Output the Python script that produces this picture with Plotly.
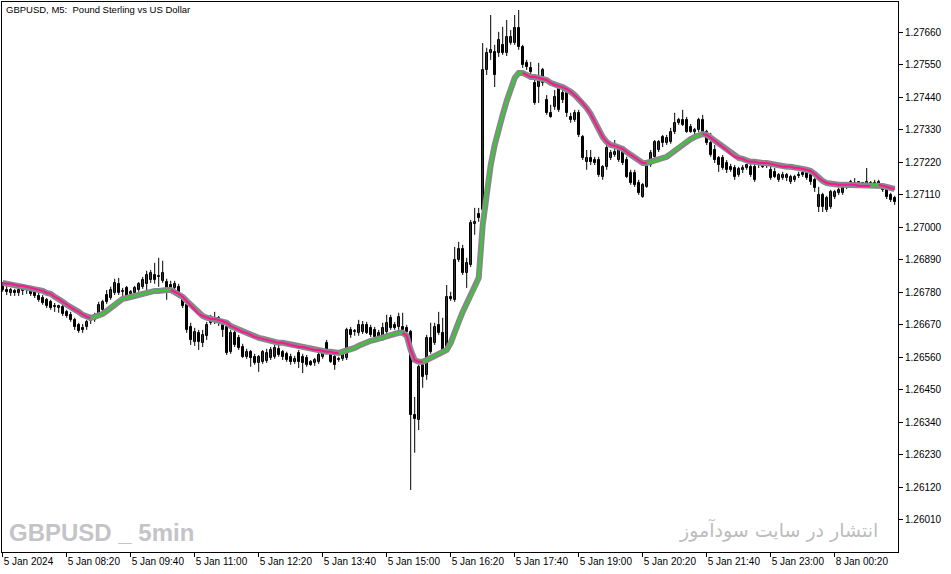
import plotly.graph_objects as go

# ---- data (GBPUSD, M5) ----
opens = [
    1.26805, 1.26788, 1.26778, 1.26785, 1.26778, 1.26785, 1.26792, 1.26795,
    1.26782, 1.26768, 1.26761, 1.26755, 1.26748, 1.26734, 1.26727, 1.26731,
    1.26714, 1.26704, 1.26687, 1.26670, 1.26660, 1.26663, 1.26683, 1.26687,
    1.26704, 1.26721, 1.26771, 1.26761, 1.26778, 1.26809, 1.26782, 1.26795,
    1.26775, 1.26778, 1.26788, 1.26799, 1.26809, 1.26822, 1.26839, 1.26832,
    1.26819, 1.26815, 1.26805, 1.26795, 1.26799, 1.26765, 1.26738, 1.26663,
    1.26612, 1.26643, 1.26609, 1.26633, 1.26677, 1.26694, 1.26680, 1.26670,
    1.26663, 1.26579, 1.26643, 1.26626, 1.26595, 1.26562, 1.26579, 1.26562,
    1.26541, 1.26545, 1.26548, 1.26558, 1.26562, 1.26589, 1.26579, 1.26572,
    1.26562, 1.26545, 1.26575, 1.26562, 1.26558, 1.26545, 1.26541, 1.26545,
    1.26562, 1.26609, 1.26575, 1.26562, 1.26555, 1.26555, 1.26558, 1.26653,
    1.26646, 1.26643, 1.26646, 1.26670, 1.26660, 1.26653, 1.26626, 1.26626,
    1.26646, 1.26694, 1.26670, 1.26663, 1.26663, 1.26660, 1.26646, 1.26365,
    1.26348, 1.26535, 1.26501, 1.26626, 1.26609, 1.26670, 1.26643, 1.26585,
    1.26765, 1.26755, 1.26890, 1.26927, 1.26846, 1.26873, 1.27012, 1.27046,
    1.27059, 1.27533, 1.27591, 1.27594, 1.27591, 1.27618, 1.27591, 1.27624,
    1.27624, 1.27675, 1.27611, 1.27557, 1.27540, 1.27489, 1.27475, 1.27489,
    1.27432, 1.27388, 1.27408, 1.27472, 1.27455, 1.27455, 1.27374, 1.27364,
    1.27388, 1.27306, 1.27222, 1.27235, 1.27228, 1.27228, 1.27171, 1.27205,
    1.27235, 1.27245, 1.27228, 1.27262, 1.27228, 1.27184, 1.27184, 1.27150,
    1.27103, 1.27137, 1.27211, 1.27239, 1.27262, 1.27306, 1.27286, 1.27289,
    1.27323, 1.27354, 1.27364, 1.27364, 1.27340, 1.27323, 1.27330, 1.27364,
    1.27323, 1.27286, 1.27262, 1.27235, 1.27235, 1.27218, 1.27205, 1.27201,
    1.27178, 1.27195, 1.27201, 1.27205, 1.27205, 1.27211, 1.27211, 1.27211,
    1.27195, 1.27188, 1.27161, 1.27167, 1.27167, 1.27154, 1.27161, 1.27178,
    1.27184, 1.27184, 1.27178, 1.27161, 1.27069, 1.27110, 1.27059, 1.27069,
    1.27103, 1.27117, 1.27117, 1.27137, 1.27147, 1.27144, 1.27144, 1.27144,
    1.27144, 1.27150, 1.27150, 1.27147, 1.27144, 1.27127, 1.27110, 1.27100,
]
highs = [
    1.26815, 1.26805, 1.26795, 1.26792, 1.26795, 1.26802, 1.26805, 1.26802,
    1.26792, 1.26778, 1.26771, 1.26761, 1.26755, 1.26744, 1.26738, 1.26738,
    1.26721, 1.26714, 1.26694, 1.26677, 1.26673, 1.26687, 1.26694, 1.26711,
    1.26748, 1.26755, 1.26788, 1.26799, 1.26826, 1.26829, 1.26795, 1.26802,
    1.26788, 1.26802, 1.26815, 1.26832, 1.26853, 1.26856, 1.26880, 1.26897,
    1.26887, 1.26826, 1.26819, 1.26819, 1.26809, 1.26771, 1.26744, 1.26677,
    1.26660, 1.26653, 1.26653, 1.26680, 1.26704, 1.26714, 1.26700, 1.26680,
    1.26670, 1.26653, 1.26653, 1.26636, 1.26606, 1.26589, 1.26585, 1.26572,
    1.26568, 1.26585, 1.26589, 1.26595, 1.26602, 1.26602, 1.26585, 1.26579,
    1.26572, 1.26565, 1.26585, 1.26572, 1.26568, 1.26551, 1.26558, 1.26579,
    1.26585, 1.26619, 1.26585, 1.26572, 1.26562, 1.26572, 1.26660, 1.26663,
    1.26656, 1.26687, 1.26683, 1.26680, 1.26670, 1.26663, 1.26653, 1.26677,
    1.26704, 1.26704, 1.26680, 1.26711, 1.26711, 1.26670, 1.26653, 1.26426,
    1.26535, 1.26551, 1.26636, 1.26677, 1.26677, 1.26714, 1.26694, 1.26805,
    1.26782, 1.26934, 1.26951, 1.26941, 1.26897, 1.27025, 1.27066, 1.27066,
    1.27624, 1.27608, 1.27719, 1.27618, 1.27662, 1.27679, 1.27702, 1.27668,
    1.27719, 1.27736, 1.27618, 1.27567, 1.27560, 1.27506, 1.27557, 1.27540,
    1.27448, 1.27415, 1.27465, 1.27489, 1.27472, 1.27465, 1.27388, 1.27398,
    1.27398, 1.27313, 1.27262, 1.27262, 1.27239, 1.27239, 1.27211, 1.27279,
    1.27262, 1.27296, 1.27269, 1.27269, 1.27239, 1.27195, 1.27195, 1.27161,
    1.27150, 1.27228, 1.27262, 1.27296, 1.27296, 1.27313, 1.27313, 1.27337,
    1.27388, 1.27371, 1.27398, 1.27374, 1.27350, 1.27337, 1.27371, 1.27381,
    1.27330, 1.27320, 1.27279, 1.27242, 1.27245, 1.27228, 1.27215, 1.27211,
    1.27205, 1.27211, 1.27215, 1.27215, 1.27215, 1.27228, 1.27222, 1.27222,
    1.27211, 1.27201, 1.27184, 1.27188, 1.27184, 1.27178, 1.27178, 1.27188,
    1.27191, 1.27195, 1.27188, 1.27167, 1.27137, 1.27117, 1.27107, 1.27127,
    1.27127, 1.27134, 1.27140, 1.27154, 1.27161, 1.27167, 1.27157, 1.27154,
    1.27201, 1.27157, 1.27161, 1.27161, 1.27150, 1.27134, 1.27117, 1.27107,
]
lows = [
    1.26782, 1.26771, 1.26768, 1.26768, 1.26768, 1.26771, 1.26775, 1.26768,
    1.26761, 1.26748, 1.26738, 1.26727, 1.26721, 1.26714, 1.26711, 1.26700,
    1.26694, 1.26680, 1.26653, 1.26643, 1.26643, 1.26653, 1.26673, 1.26680,
    1.26697, 1.26711, 1.26741, 1.26755, 1.26771, 1.26771, 1.26768, 1.26761,
    1.26765, 1.26768, 1.26782, 1.26792, 1.26788, 1.26812, 1.26809, 1.26799,
    1.26812, 1.26755, 1.26782, 1.26788, 1.26761, 1.26727, 1.26643, 1.26602,
    1.26599, 1.26585, 1.26595, 1.26619, 1.26670, 1.26673, 1.26666, 1.26629,
    1.26568, 1.26572, 1.26595, 1.26585, 1.26558, 1.26555, 1.26528, 1.26535,
    1.26511, 1.26538, 1.26541, 1.26551, 1.26555, 1.26562, 1.26551, 1.26545,
    1.26535, 1.26538, 1.26524, 1.26507, 1.26528, 1.26531, 1.26531, 1.26538,
    1.26555, 1.26579, 1.26541, 1.26518, 1.26545, 1.26548, 1.26551, 1.26626,
    1.26633, 1.26633, 1.26639, 1.26639, 1.26629, 1.26619, 1.26619, 1.26616,
    1.26639, 1.26653, 1.26653, 1.26653, 1.26650, 1.26639, 1.26111, 1.26237,
    1.26314, 1.26457, 1.26484, 1.26572, 1.26602, 1.26636, 1.26579, 1.26579,
    1.26751, 1.26748, 1.26883, 1.26839, 1.26795, 1.26866, 1.26975, 1.27019,
    1.27052, 1.27516, 1.27567, 1.27475, 1.27577, 1.27584, 1.27580, 1.27618,
    1.27618, 1.27601, 1.27540, 1.27533, 1.27499, 1.27415, 1.27421, 1.27479,
    1.27381, 1.27371, 1.27398, 1.27391, 1.27421, 1.27374, 1.27354, 1.27357,
    1.27306, 1.27228, 1.27195, 1.27211, 1.27211, 1.27171, 1.27161, 1.27195,
    1.27228, 1.27239, 1.27222, 1.27211, 1.27167, 1.27144, 1.27137, 1.27110,
    1.27100, 1.27134, 1.27205, 1.27235, 1.27255, 1.27272, 1.27279, 1.27283,
    1.27316, 1.27347, 1.27343, 1.27320, 1.27320, 1.27316, 1.27323, 1.27313,
    1.27279, 1.27239, 1.27218, 1.27188, 1.27195, 1.27184, 1.27188, 1.27161,
    1.27171, 1.27184, 1.27195, 1.27171, 1.27154, 1.27201, 1.27201, 1.27201,
    1.27161, 1.27167, 1.27154, 1.27161, 1.27157, 1.27147, 1.27154, 1.27167,
    1.27171, 1.27161, 1.27144, 1.27120, 1.27052, 1.27052, 1.27052, 1.27063,
    1.27096, 1.27110, 1.27110, 1.27130, 1.27140, 1.27140, 1.27137, 1.27137,
    1.27137, 1.27140, 1.27134, 1.27140, 1.27120, 1.27096, 1.27086, 1.27076,
]
closes = [
    1.26788, 1.26782, 1.26788, 1.26778, 1.26788, 1.26792, 1.26795, 1.26775,
    1.26768, 1.26755, 1.26744, 1.26734, 1.26727, 1.26731, 1.26734, 1.26707,
    1.26700, 1.26687, 1.26663, 1.26650, 1.26653, 1.26680, 1.26687, 1.26704,
    1.26738, 1.26748, 1.26748, 1.26788, 1.26812, 1.26778, 1.26785, 1.26768,
    1.26782, 1.26795, 1.26809, 1.26822, 1.26839, 1.26846, 1.26822, 1.26836,
    1.26846, 1.26778, 1.26795, 1.26809, 1.26768, 1.26734, 1.26653, 1.26619,
    1.26646, 1.26612, 1.26636, 1.26670, 1.26687, 1.26683, 1.26694, 1.26653,
    1.26575, 1.26643, 1.26602, 1.26592, 1.26562, 1.26579, 1.26558, 1.26541,
    1.26562, 1.26579, 1.26575, 1.26585, 1.26592, 1.26568, 1.26562, 1.26551,
    1.26545, 1.26555, 1.26545, 1.26541, 1.26535, 1.26535, 1.26551, 1.26568,
    1.26575, 1.26585, 1.26545, 1.26535, 1.26551, 1.26568, 1.26653, 1.26636,
    1.26650, 1.26670, 1.26670, 1.26643, 1.26636, 1.26629, 1.26643, 1.26660,
    1.26677, 1.26660, 1.26660, 1.26697, 1.26653, 1.26646, 1.26365, 1.26352,
    1.26528, 1.26494, 1.26626, 1.26579, 1.26663, 1.26643, 1.26585, 1.26765,
    1.26758, 1.26890, 1.26927, 1.26846, 1.26880, 1.27015, 1.27019, 1.27032,
    1.27533, 1.27591, 1.27601, 1.27516, 1.27635, 1.27591, 1.27645, 1.27645,
    1.27675, 1.27611, 1.27550, 1.27543, 1.27526, 1.27421, 1.27499, 1.27533,
    1.27388, 1.27374, 1.27442, 1.27398, 1.27432, 1.27388, 1.27364, 1.27388,
    1.27313, 1.27235, 1.27235, 1.27222, 1.27218, 1.27178, 1.27205, 1.27269,
    1.27252, 1.27255, 1.27262, 1.27218, 1.27171, 1.27150, 1.27144, 1.27117,
    1.27144, 1.27222, 1.27252, 1.27289, 1.27289, 1.27286, 1.27303, 1.27323,
    1.27354, 1.27364, 1.27347, 1.27323, 1.27323, 1.27330, 1.27364, 1.27320,
    1.27286, 1.27245, 1.27228, 1.27211, 1.27201, 1.27195, 1.27195, 1.27171,
    1.27198, 1.27201, 1.27211, 1.27178, 1.27161, 1.27222, 1.27205, 1.27215,
    1.27167, 1.27171, 1.27178, 1.27178, 1.27178, 1.27171, 1.27171, 1.27174,
    1.27178, 1.27167, 1.27154, 1.27134, 1.27110, 1.27069, 1.27100, 1.27120,
    1.27120, 1.27127, 1.27134, 1.27150, 1.27154, 1.27150, 1.27154, 1.27150,
    1.27154, 1.27144, 1.27140, 1.27154, 1.27127, 1.27103, 1.27093, 1.27086,
]
ma_values = [
    1.26812, 1.26809, 1.26809, 1.26805, 1.26802, 1.26802, 1.26799, 1.26795,
    1.26792, 1.26788, 1.26785, 1.26778, 1.26775, 1.26765, 1.26758, 1.26748,
    1.26738, 1.26731, 1.26721, 1.26714, 1.26704, 1.26697, 1.26694, 1.26697,
    1.26700, 1.26707, 1.26717, 1.26727, 1.26741, 1.26751, 1.26758, 1.26761,
    1.26765, 1.26768, 1.26771, 1.26775, 1.26778, 1.26782, 1.26785, 1.26785,
    1.26788, 1.26788, 1.26788, 1.26782, 1.26775, 1.26765, 1.26751, 1.26738,
    1.26724, 1.26707, 1.26700, 1.26694, 1.26690, 1.26690, 1.26687, 1.26683,
    1.26677, 1.26666, 1.26660, 1.26653, 1.26646, 1.26643, 1.26636, 1.26629,
    1.26626, 1.26623, 1.26619, 1.26616, 1.26612, 1.26609, 1.26609, 1.26606,
    1.26602, 1.26599, 1.26595, 1.26595, 1.26592, 1.26589, 1.26585, 1.26585,
    1.26582, 1.26579, 1.26579, 1.26575, 1.26575, 1.26579, 1.26582, 1.26585,
    1.26592, 1.26599, 1.26606, 1.26612, 1.26616, 1.26619, 1.26623, 1.26626,
    1.26633, 1.26636, 1.26639, 1.26643, 1.26643, 1.26633, 1.26585, 1.26551,
    1.26545, 1.26545, 1.26551, 1.26558, 1.26565, 1.26572, 1.26579, 1.26585,
    1.26609, 1.26639, 1.26680, 1.26714, 1.26741, 1.26765, 1.26792, 1.26829,
    1.27008, 1.27127, 1.27211, 1.27279, 1.27337, 1.27381, 1.27428, 1.27469,
    1.27506, 1.27523, 1.27523, 1.27516, 1.27509, 1.27509, 1.27506, 1.27503,
    1.27499, 1.27489, 1.27482, 1.27479, 1.27475, 1.27469, 1.27459, 1.27448,
    1.27435, 1.27421, 1.27404, 1.27384, 1.27357, 1.27330, 1.27306, 1.27289,
    1.27279, 1.27276, 1.27272, 1.27266, 1.27255, 1.27245, 1.27235, 1.27225,
    1.27218, 1.27218, 1.27222, 1.27225, 1.27228, 1.27235, 1.27239, 1.27249,
    1.27259, 1.27272, 1.27283, 1.27293, 1.27299, 1.27306, 1.27310, 1.27316,
    1.27313, 1.27303, 1.27293, 1.27283, 1.27272, 1.27262, 1.27249, 1.27239,
    1.27235, 1.27232, 1.27225, 1.27222, 1.27222, 1.27218, 1.27218, 1.27218,
    1.27215, 1.27211, 1.27208, 1.27205, 1.27205, 1.27205, 1.27201, 1.27201,
    1.27198, 1.27195, 1.27191, 1.27181, 1.27167, 1.27157, 1.27150, 1.27147,
    1.27147, 1.27144, 1.27144, 1.27144, 1.27144, 1.27144, 1.27140, 1.27140,
    1.27140, 1.27140, 1.27144, 1.27144, 1.27140, 1.27137, 1.27134, 1.27130,
]
time_tick_bars = [0, 16, 32, 48, 64, 80, 96, 112, 128, 144, 160, 176, 192, 208]
time_tick_labels = [
    "5 Jan 2024", "5 Jan 08:20", "5 Jan 09:40", "5 Jan 11:00", "5 Jan 12:20",
    "5 Jan 13:40", "5 Jan 15:00", "5 Jan 16:20", "5 Jan 17:40", "5 Jan 19:00",
    "5 Jan 20:20", "5 Jan 21:40", "5 Jan 23:00", "8 Jan 00:20",
]
price_ticks = [
    1.27660, 1.27550, 1.27440, 1.27330, 1.27220, 1.27110, 1.27000, 1.26890,
    1.26780, 1.26670, 1.26560, 1.26450, 1.26340, 1.26230, 1.26120, 1.26010,
]
price_tick_labels = [
    "1.27660", "1.27550", "1.27440", "1.27330", "1.27220", "1.27110", "1.27000",
    "1.26890", "1.26780", "1.26670", "1.26560", "1.26450", "1.26340", "1.26230",
    "1.26120", "1.26010",
]

# ---- styling ----
UP_FILL = "#FFFFFF"
DOWN_FILL = "#000000"
EDGE = "#000000"
MA_BORDER = "#888888"
MA_UP = "#32CD32"
MA_DOWN = "#FF1493"
AXIS_FONT = dict(family="Liberation Sans, Arial, sans-serif", size=10, color="#000000")

n = len(closes)
xs = list(range(n))

fig = go.Figure()

# wicks
wx, wy = [], []
for i in xs:
    wx += [i, i, None]
    wy += [lows[i], highs[i], None]
fig.add_trace(go.Scatter(x=wx, y=wy, mode="lines",
                         line=dict(color=EDGE, width=1), hoverinfo="skip"))

# bodies
ux, ub, uh, dx, db, dh = [], [], [], [], [], []
for i in xs:
    o, c = opens[i], closes[i]
    if c >= o:
        ux.append(i); ub.append(o); uh.append(max(c - o, 0.000005))
    else:
        dx.append(i); db.append(c); dh.append(o - c)
fig.add_trace(go.Bar(x=ux, y=uh, base=ub, width=0.55,
                     marker=dict(color=UP_FILL, line=dict(color=EDGE, width=1)),
                     hoverinfo="skip"))
fig.add_trace(go.Bar(x=dx, y=dh, base=db, width=0.55,
                     marker=dict(color=DOWN_FILL, line=dict(color=EDGE, width=1)),
                     hoverinfo="skip"))

# moving average: gray halo then colored core
fig.add_trace(go.Scatter(x=xs, y=ma_values, mode="lines",
                         line=dict(color=MA_BORDER, width=6), hoverinfo="skip"))

seg_colors = []
prev = MA_DOWN
for i in range(n - 1):
    if ma_values[i + 1] > ma_values[i]:
        col = MA_UP
    elif ma_values[i + 1] < ma_values[i]:
        col = MA_DOWN
    else:
        col = prev
    seg_colors.append(col)
    prev = col

start = 0
for i in range(1, n):
    if i == n - 1 or seg_colors[i] != seg_colors[start]:
        end = i
        fig.add_trace(go.Scatter(x=xs[start:end + 1], y=ma_values[start:end + 1],
                                 mode="lines",
                                 line=dict(color=seg_colors[start], width=2),
                                 hoverinfo="skip"))
        start = i

fig.update_layout(
    width=951, height=574,
    margin=dict(l=2, r=53, t=2, b=22),
    paper_bgcolor="#FFFFFF", plot_bgcolor="#FFFFFF",
    showlegend=False, barmode="overlay", bargap=0,
    font=AXIS_FONT,
    xaxis=dict(
        range=[-0.175, 223.825], tickmode="array",
        tickvals=time_tick_bars, ticktext=time_tick_labels,
        ticks="outside", ticklen=4, tickcolor="#000000", tickwidth=1,
        ticklabelposition="outside right",
        showline=True, linecolor="#000000", linewidth=1, mirror=True,
        showgrid=False, zeroline=False, tickfont=AXIS_FONT, fixedrange=True,
    ),
    yaxis=dict(
        range=[1.25901, 1.27763], side="right", tickmode="array",
        tickvals=price_ticks, ticktext=price_tick_labels,
        ticks="outside", ticklen=4, tickcolor="#000000", tickwidth=1,
        showline=True, linecolor="#000000", linewidth=1, mirror=True,
        showgrid=False, zeroline=False, tickfont=AXIS_FONT, fixedrange=True,
    ),
)

fig.add_annotation(
    text="GBPUSD, M5:  Pound Sterling vs US Dollar",
    xref="paper", yref="paper", x=0.0025, y=0.9865,
    xanchor="left", yanchor="middle", showarrow=False,
    font=dict(family="Liberation Sans, Arial, sans-serif", size=9.5, color="#000000"),
)
fig.add_annotation(
    text="<b>GBPUSD _ 5min</b>",
    xref="paper", yref="paper", x=0.006, y=0.036,
    xanchor="left", yanchor="middle", showarrow=False,
    font=dict(family="Liberation Sans, Arial, sans-serif",
              size=24, color="#C4C4C8"),
)
fig.add_annotation(
    text="انتشار در سایت سودآموز",
    xref="paper", yref="paper", x=0.98, y=0.04,
    xanchor="right", yanchor="middle", showarrow=False,
    font=dict(family="DejaVu Sans, sans-serif", size=19, color="#BDBDBD"),
)

fig.write_html("out.html", config={"displayModeBar": False},
               post_script="document.body.style.margin='0';")
